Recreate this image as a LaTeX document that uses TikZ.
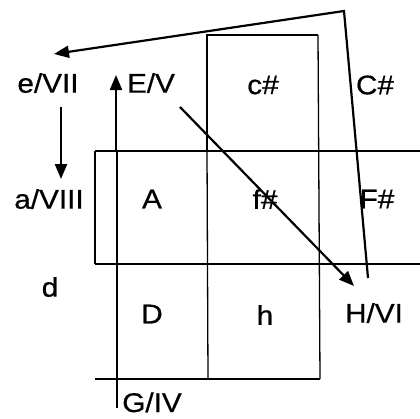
\documentclass[tikz,border=0pt]{standalone}
\usepackage{fontspec}
\setmainfont{Liberation Sans}
\newfontfamily\lblfont{Liberation Sans}[FakeBold=0.6]
\usetikzlibrary{arrows.meta}
\tikzset{
  lbl/.style={inner sep=0pt, font=\lblfont\fontsize{27}{32}\selectfont},
  thickln/.style={line width=2.4pt},
  medln/.style={line width=1.8pt},
  thinln/.style={line width=1.3pt},
  arr/.style={line width=2.2pt, -{Triangle[length=15pt,width=12pt]}},
}
\newcommand{\wide}[1]{\scalebox{1.1}[1]{#1}}
\begin{document}
\begin{tikzpicture}[x=1pt,y=-1pt]
\useasboundingbox (0,0) rectangle (420,418);
% grid lines
\draw[thickln] (207,151) -- (207,35) -- (318,35);
\draw[thinln] (318,35) -- (320,379);
\draw[thinln] (207,151) -- (208,379);
\draw[medln] (95,151) -- (420,151);
\draw[thickln] (95,264) -- (420,264);
\draw[thickln] (95,151) -- (95,264);
\draw[thickln] (95,379) -- (320,379);
\draw[thinln] (117,151) -- (117,408);
% labels
\node[lbl] (eVII) at (48,83) {\wide{e/VII}};
\node[lbl] (EV) at (151,83) {\wide{E/V}};
\node[lbl] (cs) at (263,85) {\wide{c\#}};
\node[lbl] (Cs) at (375,85) {\wide{C\#}};
\node[lbl] (aVIII) at (49,199) {\wide{a/VIII}};
\node[lbl] (A) at (152,199) {\wide{A}};
\node[lbl] (fs) at (265,199) {\wide{f\#}};
\node[lbl] (Fs) at (377,199) {\wide{F\#}};
\node[lbl] (d) at (50,287) {\wide{d}};
\node[lbl] (D) at (152,314) {\wide{D}};
\node[lbl] (h) at (265,315) {\wide{h}};
\node[lbl] (HVI) at (374,313) {\wide{H/VI}};
\node[lbl, anchor=base, text depth=0pt] (GIV) at (152,412) {\wide{G/IV}};
% connector coordinates
\coordinate (upS) at (116,151);
\coordinate (upE) at (116,75);
\coordinate (dnS) at (61,107);
\coordinate (dnE) at (61,179);
\coordinate (dgS) at (180,107);
\coordinate (dgE) at (354,286);
\coordinate (bgS) at (368,278);
\coordinate (bgM) at (344,11);
\coordinate (bgE) at (54,54);
% arrows
\draw[arr] (upS) -- (upE);
\draw[arr] (dnS) -- (dnE);
\draw[arr] (dgS) -- (dgE);
\draw[arr] (bgS) -- (bgM) -- (bgE);
\end{tikzpicture}
\end{document}
